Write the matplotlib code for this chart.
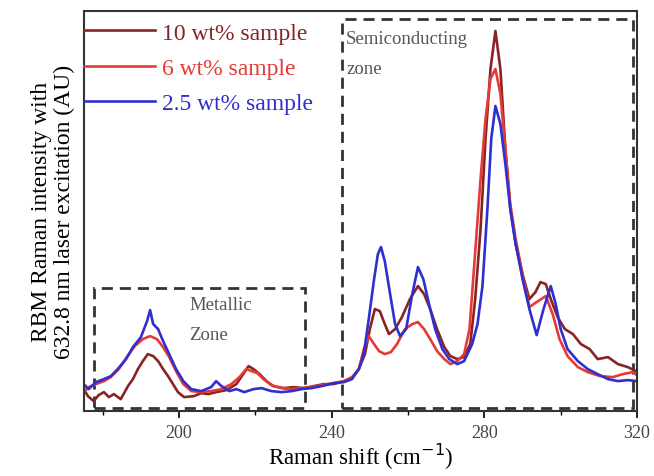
import matplotlib
matplotlib.use("Agg")
import matplotlib.pyplot as plt
from matplotlib.patches import Rectangle
from matplotlib.ticker import MultipleLocator

# ─────────────────────────────────────
# DATA  (Raman shift in cm^-1, intensity in arbitrary units)
# ─────────────────────────────────────
shift_10 = [175.0, 176.1, 177.6, 178.9, 180.3, 181.6, 182.9, 184.7, 186.6, 187.9,
            189.2, 190.5, 191.8, 193.2, 194.5, 195.8, 197.1, 198.4, 199.7, 201.3,
            203.9, 205.8, 207.6, 209.7, 212.4, 215.0, 216.8, 218.2, 219.5, 221.1,
            222.9, 224.7, 227.4, 230.0, 232.6, 235.3, 237.9, 240.5, 243.2, 245.3,
            247.1, 248.7, 250.0, 251.3, 252.6, 253.9, 255.0, 256.6, 258.4, 260.5,
            262.6, 264.2, 265.8, 267.6, 269.5, 271.1, 272.9, 274.7, 276.3, 277.6,
            279.0, 280.3, 281.6, 282.9, 284.2, 285.5, 286.8, 288.2, 290.0, 291.8,
            293.4, 294.7, 296.1, 297.4, 299.2, 301.1, 303.2, 305.3, 307.6, 309.7,
            312.4, 315.0, 317.6, 319.7]
int_10 = [5.5, 3.75, 2.5, 4.0, 4.75, 3.5, 4.25, 3.0, 6.25, 8.0,
          10.5, 12.5, 14.25, 13.75, 12.5, 10.5, 8.75, 6.75, 4.75, 3.5,
          3.75, 4.5, 4.25, 4.75, 5.25, 6.75, 9.25, 11.25, 10.5, 9.25,
          7.5, 6.25, 5.75, 6.0, 5.75, 6.25, 6.75, 6.75, 7.5, 8.25,
          10.5, 14.25, 20.5, 25.5, 25.0, 21.75, 19.25, 20.5, 23.5, 28.0,
          31.25, 29.25, 25.5, 20.5, 16.0, 13.75, 13.0, 13.5, 16.75, 28.0,
          45.5, 68.0, 85.5, 95.0, 85.5, 65.5, 50.5, 41.75, 34.25, 28.0,
          29.75, 32.25, 31.75, 28.0, 23.5, 20.5, 19.25, 16.75, 15.5, 13.0,
          13.5, 11.75, 11.0, 10.0]

shift_6 = [175.0, 176.3, 178.2, 180.3, 182.1, 184.2, 186.3, 188.4, 190.5, 192.4,
           194.2, 195.8, 197.4, 199.2, 201.1, 203.2, 205.8, 208.4, 211.1, 213.7,
           215.8, 217.6, 219.0, 220.5, 222.1, 224.2, 226.8, 229.5, 232.1, 234.7,
           237.4, 240.5, 243.2, 245.3, 247.1, 248.4, 249.7, 251.1, 252.4, 253.9,
           255.5, 257.1, 259.2, 261.1, 262.6, 264.2, 265.8, 267.6, 269.5, 271.1,
           272.9, 274.7, 276.1, 277.6, 279.0, 280.3, 281.6, 282.9, 284.2, 285.5,
           286.8, 288.2, 290.0, 291.8, 293.7, 296.1, 297.9, 299.7, 301.8, 304.5,
           307.1, 310.3, 313.7, 316.3, 318.9, 320.0]
int_6 = [4.75, 6.0, 6.75, 7.5, 8.5, 10.5, 13.5, 16.25, 18.0, 18.75,
         18.0, 16.0, 13.5, 10.0, 6.75, 5.0, 4.75, 5.0, 5.5, 6.75,
         8.5, 10.5, 10.0, 9.5, 8.0, 6.5, 5.75, 5.5, 5.75, 6.0,
         6.5, 7.0, 7.5, 8.5, 10.5, 15.5, 18.75, 16.75, 15.0, 14.25,
         14.75, 16.75, 20.5, 21.75, 22.25, 20.5, 18.0, 15.0, 13.0, 11.75,
         12.5, 14.25, 20.5, 39.75, 58.0, 73.0, 83.0, 85.5, 79.25, 65.5,
         51.75, 43.0, 34.25, 26.0, 27.25, 28.75, 24.25, 18.0, 13.75, 11.0,
         9.75, 8.75, 8.5, 9.25, 9.75, 9.0]

shift_25 = [175.0, 176.3, 178.2, 180.3, 182.1, 183.9, 186.1, 187.9, 190.0, 191.6,
            192.4, 193.2, 194.5, 195.8, 197.4, 199.2, 201.1, 203.2, 205.8, 208.4,
            209.7, 211.1, 213.2, 215.0, 217.1, 219.5, 221.6, 224.2, 226.8, 229.5,
            232.1, 234.7, 237.4, 240.5, 243.2, 245.3, 247.1, 248.4, 249.7, 251.1,
            252.1, 252.9, 253.9, 255.3, 256.6, 257.9, 259.5, 261.1, 262.6, 264.0,
            265.5, 267.1, 269.0, 270.8, 272.9, 274.7, 276.8, 278.2, 279.5, 280.8,
            281.8, 282.9, 284.2, 285.5, 286.8, 288.2, 290.0, 291.8, 293.7, 295.5,
            297.4, 298.7, 300.0, 301.8, 304.5, 307.1, 309.7, 312.4, 315.0, 317.6,
            320.0]
int_25 = [6.75, 5.5, 7.25, 8.0, 8.75, 10.5, 13.0, 16.0, 18.5, 22.5,
          25.25, 21.75, 20.5, 17.5, 14.25, 10.5, 7.5, 5.5, 5.0, 6.0,
          7.5, 6.25, 5.0, 5.5, 4.75, 5.5, 5.75, 5.0, 4.75, 5.0,
          5.5, 5.75, 6.25, 7.0, 7.25, 8.0, 10.5, 14.25, 23.0, 33.0,
          39.25, 41.0, 37.5, 29.25, 21.75, 18.75, 20.5, 29.25, 36.0, 33.0,
          26.75, 20.5, 15.5, 13.0, 11.75, 12.5, 16.75, 21.75, 31.25, 50.5,
          68.0, 76.25, 71.75, 61.75, 50.5, 41.75, 33.0, 25.5, 19.0, 25.5,
          31.25, 26.75, 20.5, 15.5, 12.5, 10.5, 9.25, 8.0, 7.5, 7.75,
          7.5]

labels = ["10 wt% sample", "6 wt% sample", "2.5 wt% sample"]
colors = ["#8a2323", "#e53a36", "#2f2fd0"]

# zone boxes: (x0, x1, y0, y1)
metallic_box = (177.6, 232.9, 0.75, 30.75)
semi_box = (242.6, 319.0, 0.75, 98.0)

# ─────────────────────────────────────
# PLOT
# ─────────────────────────────────────
plt.rcParams['font.family'] = ['Liberation Serif', 'DejaVu Serif']

fig = plt.figure(figsize=(6.54, 4.77), dpi=100)
ax = fig.add_axes([0.128, 0.136, 0.846, 0.839])

ax.plot(shift_10, int_10, color=colors[0], lw=1.9, label=labels[0])
ax.plot(shift_6, int_6, color=colors[1], lw=1.9, label=labels[1])
ax.plot(shift_25, int_25, color=colors[2], lw=1.9, label=labels[2])

for (x0, x1, y0, y1) in [metallic_box, semi_box]:
    ax.add_patch(Rectangle((x0, y0), x1 - x0, y1 - y0, fill=False,
                           ec="#333333", lw=2, ls=(0, (4, 2.5))))

ax.text(202.6, 28.8, "Metallic\nZone", fontsize=13.5, color="#555555",
        va="top", linespacing=2.0)
ax.text(243.8, 95.3, "Semiconducting\nzone", fontsize=13.5, color="#555555",
        va="top", linespacing=2.0)

ax.set_xlim(175, 320)
ax.set_ylim(0, 100)
ax.xaxis.set_minor_locator(MultipleLocator(20))
ax.set_xticks([200, 240, 280, 320])
ax.set_yticks([])
ax.tick_params(axis="x", which="major", direction="out", length=5, width=1.2,
               labelsize=13, labelcolor="#444444", pad=4)
ax.tick_params(axis="x", which="minor", direction="out", length=3, width=1)

for s in ax.spines.values():
    s.set_linewidth(1.5)
    s.set_color("#333333")

ax.set_xlabel("Raman shift (cm$^{-1}$)", fontsize=16.5, labelpad=0)
ax.set_ylabel("RBM Raman intensity with\n632.8 nm laser excitation (AU)",
              fontsize=17, labelpad=6, linespacing=1.15)

leg = ax.legend(loc="upper left", bbox_to_anchor=(0, 0.972), frameon=False,
                fontsize=17, handlelength=3.0, handletextpad=0.3,
                borderpad=0, borderaxespad=0, labelspacing=0.58,
                labelcolor="linecolor")

plt.savefig("out.png", dpi=100)
